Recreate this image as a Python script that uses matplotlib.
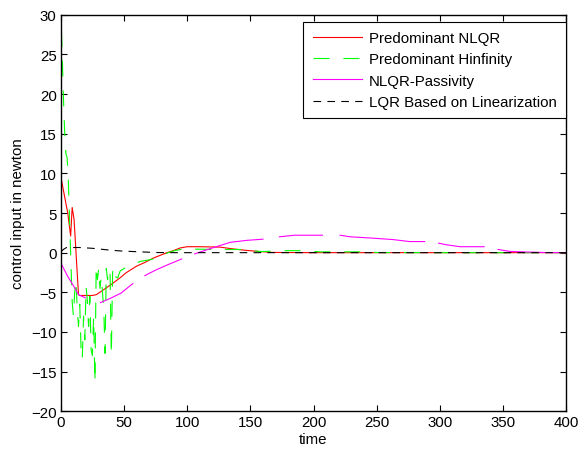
import numpy as np
import matplotlib
matplotlib.use("Agg")
from matplotlib import pyplot as plt

plt.rcParams["font.family"] = ["Liberation Sans", "DejaVu Sans"]
plt.rcParams["font.size"] = 10.8
plt.rcParams["lines.scale_dashes"] = False

# Predominant NLQR (red)
nlqr_t = [0, 5.5, 7.8, 9.0, 10.5, 14, 15, 25, 28, 30, 40, 46.7, 52, 60, 67, 73,
          80, 84, 89, 94.6, 100, 110, 126, 135, 146, 157, 167, 200, 300, 400]
nlqr_y = [9.6, 5.0, 2.1, 5.7, 4.2, -5.3, -5.4, -5.4, -5.3, -5.1, -4.0, -3.2, -2.5,
          -1.7, -1.2, -0.7, -0.25, 0.0, 0.25, 0.6, 0.75, 0.75, 0.7, 0.5, 0.3, 0.15,
          0.03, 0.0, 0.0, 0.0]

# Predominant Hinfinity (green)
hinf_t = [0.5, 1.2, 2, 3, 4, 5, 6, 7, 8, 9, 10, 11, 12, 13, 14, 15, 16, 17, 18, 19,
          20, 21, 22, 23, 24, 25, 26, 27, 28, 29, 30, 31, 32, 33, 34, 35, 36, 37, 38,
          39, 40, 41, 42, 43, 45, 47, 50, 55, 63, 70, 76, 85, 90, 95, 100, 106, 123,
          128, 145, 157, 162, 174, 190, 206, 210, 223, 241, 250, 300, 400]
hinf_y = [28, 24.5, 20, 15.5, 12.5, 12, 9, 3.8, -1.1, -6.2, -8, -5, -3.5, -7, -9.3,
          -6.5, -12, -13.5, -8, -11, -4.3, -6, -9.3, -5.5, -12.3, -13, -8, -16.4,
          -1.7, -3.4, -2, -4.5, -3, -5, -7.2, -12.7, -2, -3.4, -2, -2.6, -12.9, -2.5,
          -1.8, -3.0, -3.2, -2.3, -2.0, -1.6, -1.1, -0.9, -0.7, 0.0, 0.25, 0.4, 0.55,
          0.45, 0.4, 0.4, 0.4, 0.15, 0.15, 0.25, 0.25, 0.1, 0.1, 0.1, 0.1, 0.02, 0.0,
          0.0]

# NLQR-Passivity (magenta), separate pieces
pass_segs = [
    ([0, 5.5, 12, 14, 19.5], [-1.3, -3.0, -4.7, -5.3, -5.7]),
    ([31.4, 40, 47.7, 57], [-6.3, -5.7, -5.1, -3.9]),
    ([66.5, 75, 85, 95.6], [-2.9, -2.2, -1.5, -0.8]),
    ([106, 120, 134, 147, 160], [-0.15, 0.6, 1.3, 1.55, 1.7]),
    ([173, 185, 207], [2.0, 2.2, 2.2]),
    ([221, 229, 245, 263, 276, 288], [2.2, 2.0, 1.85, 1.65, 1.4, 1.4]),
    ([299, 305, 316, 335], [1.2, 1.0, 0.75, 0.75]),
    ([346, 356, 369, 383, 400], [0.4, 0.15, 0.08, 0.02, 0.0]),
]

# LQR Based on Linearization (black dashed)
lqr_t = [0, 2, 4.5, 15, 25, 34, 40, 48.7, 59, 75, 90, 400]
lqr_y = [0.1, 0.4, 0.65, 0.65, 0.55, 0.4, 0.3, 0.2, 0.13, 0.02, 0.0, 0.0]

pass_t = []
pass_y = []
for st, sy in pass_segs:
    pass_t += list(st) + [np.nan]
    pass_y += list(sy) + [np.nan]

fig = plt.figure(figsize=(5.79, 4.52), dpi=100)
ax = fig.add_axes([0.105, 0.088, 0.873, 0.877])

ax.plot(nlqr_t, nlqr_y, color="red", lw=0.8, label="Predominant NLQR")
ax.plot(hinf_t, hinf_y, color="#00ff00", lw=0.8, dashes=(11.5, 10),
        label="Predominant Hinfinity")
ax.plot(pass_t, pass_y, color="magenta", lw=0.8, label="NLQR-Passivity")
ax.plot(lqr_t, lqr_y, color="black", lw=0.8, dashes=(5.5, 4.5),
        label="LQR Based on Linearization")

ax.set_xlim(0, 400)
ax.set_ylim(-20, 30)
ax.set_xticks(np.arange(0, 401, 50))
ax.set_yticks(np.arange(-20, 31, 5))
ax.tick_params(direction="in", top=True, right=True, length=4, width=0.8, pad=3)
for sp in ax.spines.values():
    sp.set_linewidth(1.0)
ax.set_xlabel("time", labelpad=2)
ax.set_ylabel("control input in newton", labelpad=4)

leg = ax.legend(loc="upper right", bbox_to_anchor=(1.0, 0.982), borderaxespad=0,
                fancybox=False, framealpha=1, edgecolor="black", handlelength=3.3,
                handletextpad=0.47, labelspacing=0.48, borderpad=0.62)
leg.get_frame().set_linewidth(0.8)

fig.savefig("out.png", dpi=100)
